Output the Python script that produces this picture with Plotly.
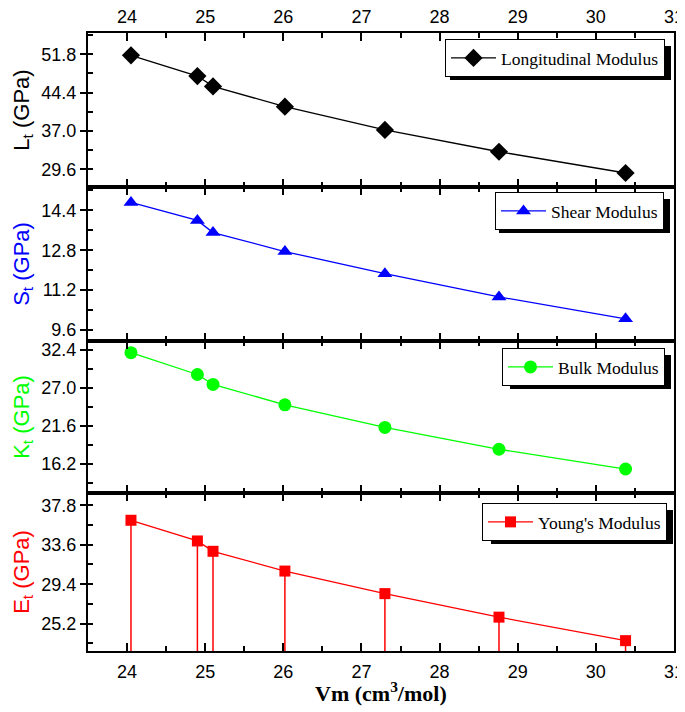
import plotly.graph_objects as go

# ---- data ----
vm = [24.05, 24.9, 25.1, 26.02, 27.3, 28.76, 30.38]
longitudinal = [51.6, 47.6, 45.6, 41.7, 37.2, 33.0, 28.9]
shear = [14.72, 14.0, 13.51, 12.75, 11.86, 10.93, 10.05]
bulk = [32.0, 28.9, 27.5, 24.6, 21.4, 18.3, 15.5]
young = [36.2, 34.0, 32.9, 30.8, 28.4, 25.9, 23.4]

series_names = ["Longitudinal Modulus", "Shear Modulus", "Bulk Modulus", "Young's Modulus"]
y_titles = ["L<sub>t</sub> (GPa)", "S<sub>t</sub> (GPa)", "K<sub>t</sub> (GPa)", "E<sub>t</sub> (GPa)"]
x_title = "<b>Vm (cm<sup>3</sup>/mol)</b>"

# ---- layout geometry (page pixel coordinates; the page body adds an 8px offset) ----
OFF = 8
W, H = 685 - OFF, 712 - OFF
PL, PR, PT, PB = 88, 674, 33, 651
PW, PH = PR - PL, PB - PT


def px(x):
    return (x - PL) / PW


def py(y):
    return (PB - y) / PH


panel_px = [(33, 187), (187, 341), (341, 493), (493, 651)]
y_ranges = [[26.2, 55.9], [9.16, 15.34], [12.1, 33.65], [22.3, 39.1]]
y_tick0 = [29.6, 9.6, 16.2, 25.2]
y_dtick = [7.4, 1.6, 5.4, 4.2]
colors = ["#000000", "#0000FF", "#00FF00", "#FF0000"]
symbols = ["diamond", "triangle-up", "circle", "square"]
msizes = [14, 13, 13, 11]
values = [longitudinal, shear, bulk, young]

fig = go.Figure()

for i in range(4):
    ax = "" if i == 0 else str(i + 1)
    tr = dict(
        x=vm, y=values[i], mode="lines+markers", name=series_names[i],
        line=dict(color=colors[i], width=1.3),
        marker=dict(symbol=symbols[i], size=msizes[i], color=colors[i]),
        xaxis="x" + ax, yaxis="y" + ax,
        legend="legend" + ax,
    )
    if i == 3:
        tr["error_y"] = dict(
            type="data", symmetric=False,
            array=[0] * len(young),
            arrayminus=[v - y_ranges[3][0] for v in young],
            color=colors[3], thickness=1.5, width=0,
        )
    fig.add_trace(go.Scatter(**tr))

layout = dict(
    width=W, height=H,
    margin=dict(l=PL - OFF, r=W - (PR - OFF), t=PT - OFF, b=H - (PB - OFF), autoexpand=False),
    plot_bgcolor="white", paper_bgcolor="white",
    font=dict(family="Liberation Sans", size=18, color="black"),
    showlegend=True,
)

# legend (right, top) and shadow box in page pixels
legend_pos = [(665, 39), (664, 192), (665, 348), (667, 503)]
legend_w = [223, 173, 163, 184]
legend_h = 34

shapes = []
for i in range(4):
    ax = "" if i == 0 else str(i + 1)
    top, bot = panel_px[i]
    xa = dict(
        range=[23.5, 31], tick0=24, dtick=1, tickmode="linear",
        ticks="inside", ticklen=8, tickwidth=1.5, tickcolor="black",
        minor=dict(dtick=0.5, tick0=23.5, ticks="inside", ticklen=5, tickwidth=1.5, tickcolor="black"),
        showline=True, linecolor="black", linewidth=2, mirror="allticks",
        showgrid=False, zeroline=False, automargin=False,
        ticklabeloverflow="allow",
        tickfont=dict(family="Liberation Sans", size=18, color="black"),
        domain=[0, 1],
    )
    if i == 0:
        xa["side"] = "top"
        xa["showticklabels"] = True
        xa["ticklabelstandoff"] = 1
    elif i == 3:
        xa["side"] = "bottom"
        xa["showticklabels"] = True
        xa["ticklabelstandoff"] = 3
    else:
        xa["showticklabels"] = False
    if i > 0:
        xa["matches"] = "x"
    xa["anchor"] = "y" + ax
    layout["xaxis" + ax] = xa

    ya = dict(
        range=y_ranges[i], tick0=y_tick0[i], dtick=y_dtick[i], tickmode="linear",
        tickformat=".1f",
        ticks="outside", ticklen=6, tickwidth=1.5, tickcolor="black",
        minor=dict(dtick=y_dtick[i] / 2, tick0=y_tick0[i], ticks="inside", ticklen=5,
                   tickwidth=1.5, tickcolor="black"),
        showline=True, linecolor="black", linewidth=2, mirror=True,
        showgrid=False, zeroline=False, automargin=False,
        tickfont=dict(family="Liberation Sans", size=18, color="black"),
        title=dict(text=y_titles[i], font=dict(family="Liberation Sans", size=22, color=colors[i]),
                   standoff=6),
        domain=[py(bot), py(top)],
        anchor="x" + ax,
    )
    layout["yaxis" + ax] = ya

    lx, ly = legend_pos[i]
    layout["legend" + ax] = dict(
        x=px(lx), y=py(ly), xanchor="right", yanchor="top",
        xref="paper", yref="paper",
        bgcolor="white", bordercolor="black", borderwidth=1,
        font=dict(family="Liberation Serif", size=17.5, color="black"),
        tracegroupgap=0, itemwidth=45,
    )
    x1 = lx + 6
    x0 = lx - legend_w[i] + 8
    y0 = ly + 7
    y1 = ly + legend_h + 7
    shapes.append(dict(type="rect", xref="paper", yref="paper",
                       x0=px(x0), x1=px(x1), y0=py(y1), y1=py(y0),
                       fillcolor="black", line=dict(width=0), layer="above"))

layout["shapes"] = shapes
layout["annotations"] = [dict(
    text=x_title, xref="paper", yref="paper", x=0.5, y=py(692),
    xanchor="center", yanchor="middle", showarrow=False,
    font=dict(family="Liberation Serif", size=22, color="black"),
)]
fig.update_layout(**layout)
fig.write_html("out.html")
